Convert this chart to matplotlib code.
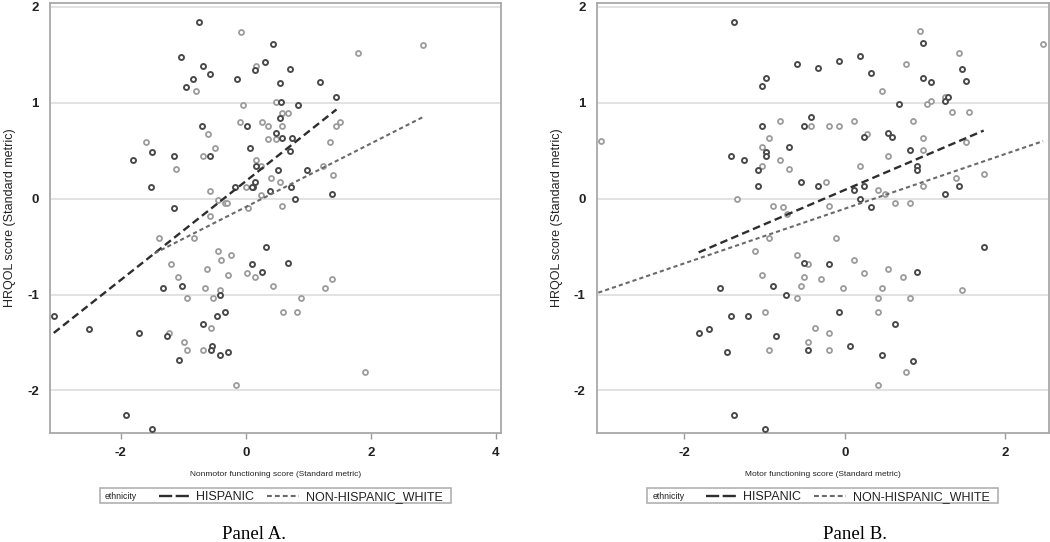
import matplotlib
matplotlib.use('Agg')
import matplotlib.pyplot as plt
from matplotlib.lines import Line2D
from matplotlib.patches import Rectangle

plt.rcParams['axes.unicode_minus'] = False
plt.rcParams['lines.scale_dashes'] = False
plt.rcParams['font.family'] = ['Liberation Sans', 'DejaVu Sans']

W, H = 1050, 542

# ---- Panel A: nonmotor functioning ----
a_hisp_x = [-0.75, -1.03, -0.68, -0.57, -0.84, -0.96, -0.14, 0.14, -0.70, 0.02, 0.06, -1.50, -1.80,
            -1.15, -0.58, -1.52, -0.18, 0.14, 0.12, 0.16, -1.15,
            0.44, 0.30, 0.70, 0.54, 1.18, 1.44, 0.56, 0.84, 0.54, 0.48, 0.58, 0.74, 0.70, 0.52,
            0.98, 0.10, 0.72, 0.38, 1.38, 0.78,
            -1.33, -1.02, -0.42, 0.10, -0.34, -0.46, -3.07, -2.50, -1.70, -1.26, -0.68, -0.54,
            -0.56, -0.42, -0.28, -1.07, -1.92, -1.50,
            0.32, 0.68, 0.26]
a_hisp_y = [1.84, 1.48, 1.385, 1.30, 1.25, 1.16, 1.25, 1.34, 0.76, 0.76, 0.53, 0.49, 0.40,
            0.44, 0.44, 0.125, 0.125, 0.17, 0.12, 0.34, -0.10,
            1.61, 1.43, 1.35, 1.21, 1.22, 1.055, 1.01, 0.98, 0.84, 0.68, 0.635, 0.635, 0.50, 0.295,
            0.295, 0.125, 0.125, 0.08, 0.045, 0.0,
            -0.93, -0.906, -1.0, -0.68, -1.18, -1.22, -1.22, -1.36, -1.40, -1.43, -1.31, -1.54,
            -1.58, -1.63, -1.60, -1.68, -2.26, -2.40,
            -0.50, -0.67, -0.76]
a_white_x = [-0.08, 0.16, -0.80, -0.04, -0.10, -0.60, -1.59, -0.50, -0.68, -1.12, 0.16, 0.0,
             -0.58, -0.44, -0.34, -0.30, 0.04, -0.58,
             2.83, 1.80, 0.48, 0.58, 0.68, 0.26, 0.36, 0.58, 1.50, 1.44, 0.36, 0.48, 1.34, 0.24,
             1.24, 1.40, 0.40, 0.54, 0.24, 0.58,
             -1.38, -0.82, -1.20, -1.08, -0.44, -0.24, -0.40, -0.62, -0.28, 0.02, 0.14, -0.66,
             -0.42, -0.94, -0.52, -0.56, -1.22, -0.98, -0.94, -0.68, -0.16,
             0.44, 1.26, 1.38, 0.88, 0.60, 0.82, 1.90]
a_white_y = [1.74, 1.385, 1.12, 0.98, 0.80, 0.67, 0.59, 0.53, 0.44, 0.305, 0.40, 0.125,
             0.08, -0.01, -0.05, -0.05, -0.10, -0.18,
             1.60, 1.52, 1.01, 0.89, 0.89, 0.80, 0.76, 0.76, 0.80, 0.76, 0.62, 0.62, 0.59, 0.34,
             0.34, 0.25, 0.215, 0.17, 0.04, -0.08,
             -0.41, -0.41, -0.68, -0.82, -0.55, -0.59, -0.64, -0.73, -0.80, -0.775, -0.82, -0.93,
             -0.955, -1.04, -1.04, -1.35, -1.40, -1.49, -1.58, -1.58, -1.94,
             -0.91, -0.93, -0.84, -1.04, -1.18, -1.18, -1.81]
a_hisp_fit_x = [-3.07, 1.45]
a_hisp_fit_y = [-1.40, 0.93]
a_white_fit_x = [-1.46, 2.83]
a_white_fit_y = [-0.57, 0.85]

# ---- Panel B: motor functioning ----
b_hisp_x = [-1.38, -0.98, -1.03, -1.03, -1.42, -1.25, -0.98, -0.98, -1.08, -1.08, -0.69,
            0.98, -0.59, -0.33, -0.07, 0.19, 0.33, 0.98, 1.07, 1.46, 1.51, 0.68, 1.25, 1.29,
            -0.42, -0.51, 0.54, 0.59, 0.24, 0.81, 0.90, 0.90, -0.55, -0.33, 0.11, 0.24, 1.25,
            1.42, 0.19, 0.33,
            -1.56, -0.90, -0.73, -1.42, -1.20, -1.82, -1.69, -0.86, -1.47, -1.38, -0.99,
            -0.51, -0.20, 0.90, 1.73, -0.07, 0.63, 0.06, -0.46, 0.46, 0.85]
b_hisp_y = [1.84, 1.26, 1.17, 0.76, 0.45, 0.40, 0.49, 0.45, 0.30, 0.13, 0.54,
            1.62, 1.40, 1.36, 1.44, 1.49, 1.31, 1.26, 1.215, 1.35, 1.23, 0.99, 1.02, 1.06,
            0.85, 0.76, 0.68, 0.64, 0.64, 0.51, 0.34, 0.30, 0.17, 0.13, 0.09, 0.13, 0.05,
            0.13, 0.0, -0.09,
            -0.93, -0.906, -1.0, -1.22, -1.22, -1.40, -1.36, -1.43, -1.60, -2.26, -2.40,
            -0.67, -0.68, -0.76, -0.50, -1.18, -1.31, -1.54, -1.58, -1.63, -1.69]
b_white_x = [-3.04, -0.81, -0.94, -1.03, -1.03, -0.81, -0.69, -1.34, -0.90, -0.77,
             2.47, 0.94, 1.42, 0.76, 0.46, 1.02, 1.07, 1.25, 1.33, 1.55, 0.85, 0.11, -0.42,
             -0.20, -0.07, 0.28, 0.98, 0.98, 1.51, 0.54, 0.19, 1.73, -0.24, 1.38, 0.41, 0.98,
             0.50, 0.63, 0.81, -0.20,
             -0.94, -1.12, -1.03, -0.99, -0.94, -0.72,
             -0.11, -0.59, -0.46, 0.11, 0.24, 0.54, 0.72, -0.51, -0.29, -0.55, -0.02, 0.46,
             1.46, -0.59, 0.41, 0.81, 0.41, -0.37, -0.20, -0.46, -0.20, 0.76, 0.41]
b_white_y = [0.60, 0.81, 0.63, 0.54, 0.34, 0.40, 0.31, 0.0, -0.08, -0.09,
             1.61, 1.75, 1.52, 1.40, 1.125, 0.99, 1.02, 1.06, 0.90, 0.90, 0.81, 0.81, 0.76,
             0.76, 0.76, 0.67, 0.63, 0.51, 0.59, 0.45, 0.34, 0.26, 0.17, 0.22, 0.09, 0.13,
             0.05, -0.045, -0.045, -0.08,
             -0.41, -0.545, -0.80, -1.18, -1.58, -0.16,
             -0.41, -0.59, -0.68, -0.635, -0.77, -0.73, -0.82, -0.82, -0.84, -0.91, -0.93, -0.93,
             -0.95, -1.04, -1.04, -1.04, -1.18, -1.35, -1.40, -1.49, -1.58, -1.81, -1.94]
b_hisp_fit_x = [-1.82, 1.73]
b_hisp_fit_y = [-0.56, 0.71]
b_white_fit_x = [-3.07, 2.47]
b_white_fit_y = [-0.98, 0.60]

y_ticks = [-2, -1, 0, 1, 2]
a_x_ticks = [-2, 0, 2, 4]
b_x_ticks = [-2, 0, 2]
groups = ['HISPANIC', 'NON-HISPANIC_WHITE']

DARK_PT, LIGHT_PT = '#4a4a4a', '#9c9c9c'
DARK_LN, LIGHT_LN = '#2e2e2e', '#6a6a6a'
HISP_DASH = (5.5, 3.0)
WHITE_DASH = (3.0, 2.2)


def fx(p):
    return p / W


def fy(p):
    return 1 - p / H


def draw_panel(ax, hx, hy, wx, wy, hfx, hfy, wfx, wfy, xlim, xticks, xlabel):
    ax.scatter(wx, wy, s=13, facecolors='white', edgecolors=LIGHT_PT, linewidths=1.3, zorder=3)
    ax.scatter(hx, hy, s=13, facecolors='white', edgecolors=DARK_PT, linewidths=1.4, zorder=3)
    ax.plot(hfx, hfy, color=DARK_LN, lw=1.7, dashes=HISP_DASH, zorder=4)
    ax.plot(wfx, wfy, color=LIGHT_LN, lw=1.5, dashes=WHITE_DASH, zorder=4)

    ax.set_xlim(*xlim)
    ax.set_ylim(-2.44, 2.04)
    ax.set_xticks(xticks)
    ax.set_yticks(y_ticks)
    ax.set_xticklabels([str(t) for t in xticks])
    ax.set_yticklabels([str(t) for t in y_ticks])
    for lab in ax.get_xticklabels() + ax.get_yticklabels():
        lab.set_fontweight('bold')
        lab.set_fontsize(9.5)
        lab.set_color('#222222')
    ax.tick_params(axis='x', length=4, width=1, color='#999999', pad=6)
    ax.tick_params(axis='y', length=0, pad=8)
    ax.grid(axis='y', color='#e2e2e2', lw=1.4)
    ax.set_axisbelow(True)
    for sp in ax.spines.values():
        sp.set_color('#a8a8a8')
        sp.set_linewidth(1.3)
    ax.set_xlabel(xlabel, fontsize=6, labelpad=9, color='#222222')
    ax.set_ylabel('HRQOL score (Standard metric)', fontsize=9, labelpad=8, color='#222222')


def draw_legend(fig, center_px):
    left = center_px - 175.5
    top, bottom = 488.3, 502.7
    mid = (top + bottom) / 2
    fig.patches.append(Rectangle((fx(left), fy(bottom)), fx(351), (bottom - top) / H,
                                 transform=fig.transFigure, facecolor='white',
                                 edgecolor='#b0b0b0', lw=1.2))
    fig.text(fx(left + 5), fy(mid), 'ethnicity', fontsize=6.3, va='center_baseline', color='#222222')
    fig.lines.append(Line2D([fx(left + 59), fx(left + 89)], [fy(mid), fy(mid)],
                            transform=fig.transFigure, color=DARK_LN, lw=1.7, dashes=(9.5, 2.5)))
    fig.text(fx(left + 96), fy(mid), groups[0], fontsize=9, va='center_baseline', color='#222222')
    fig.lines.append(Line2D([fx(left + 166.5), fx(left + 198.5)], [fy(mid), fy(mid)],
                            transform=fig.transFigure, color=LIGHT_LN, lw=1.5, dashes=(3.5, 2.2)))
    fig.text(fx(left + 206), fy(mid), groups[1], fontsize=9, va='center_baseline', color='#222222')


fig = plt.figure(figsize=(W / 100, H / 100), dpi=100)
ax_a = fig.add_axes([fx(50), fy(432.7), fx(451), (432.7 - 3) / H])
ax_b = fig.add_axes([fx(596.7), fy(432.7), fx(452), (432.7 - 3) / H])

draw_panel(ax_a, a_hisp_x, a_hisp_y, a_white_x, a_white_y,
           a_hisp_fit_x, a_hisp_fit_y, a_white_fit_x, a_white_fit_y,
           (-3.13, 4.08), a_x_ticks, 'Nonmotor functioning score (Standard metric)')
draw_panel(ax_b, b_hisp_x, b_hisp_y, b_white_x, b_white_y,
           b_hisp_fit_x, b_hisp_fit_y, b_white_fit_x, b_white_fit_y,
           (-3.09, 2.54), b_x_ticks, 'Motor functioning score (Standard metric)')

draw_legend(fig, 275.5)
draw_legend(fig, 822.7)

fig.text(fx(254), fy(539), 'Panel A.', family='Liberation Serif', fontsize=13.5,
         ha='center', va='baseline')
fig.text(fx(855), fy(539), 'Panel B.', family='Liberation Serif', fontsize=13.5,
         ha='center', va='baseline')

fig.savefig('out.png', dpi=100)
